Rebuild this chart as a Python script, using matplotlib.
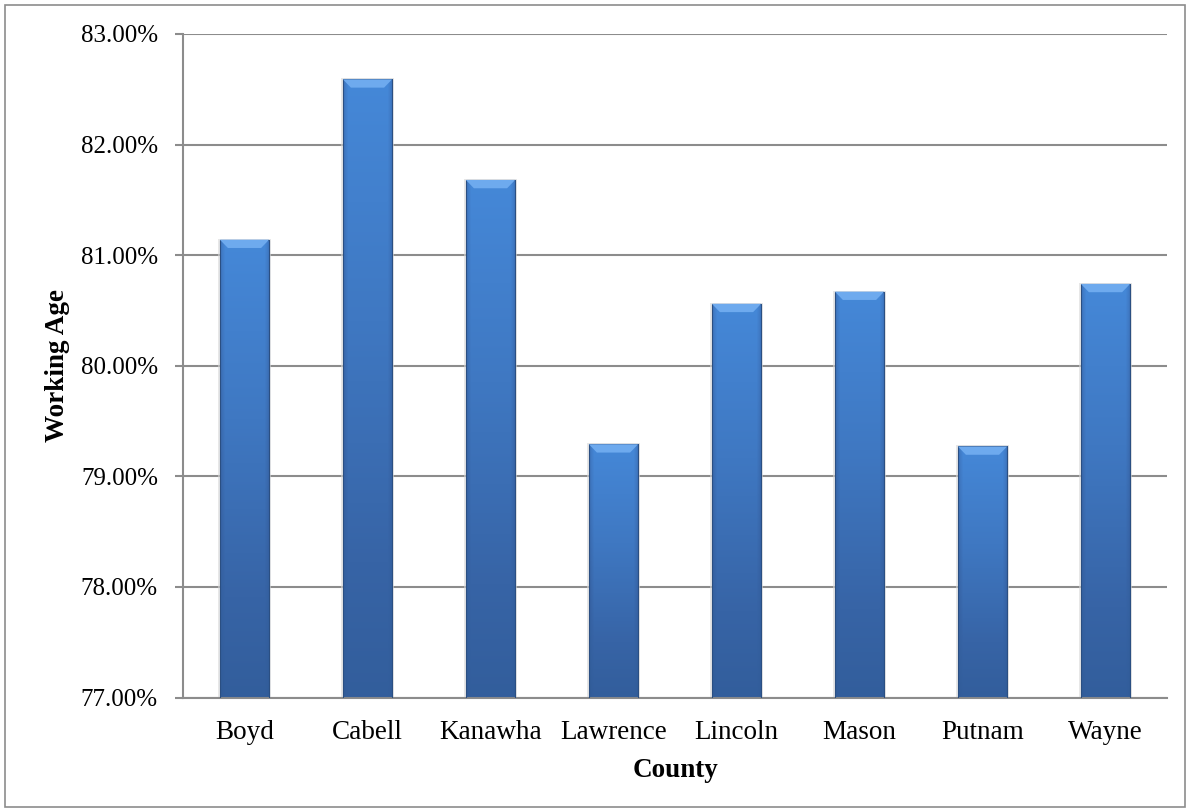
import numpy as np
import matplotlib.pyplot as plt
from matplotlib.patches import Rectangle, Polygon
from matplotlib.colors import LinearSegmentedColormap

# data
counties = ['Boyd', 'Cabell', 'Kanawha', 'Lawrence', 'Lincoln', 'Mason', 'Putnam', 'Wayne']
working_age = [81.14, 82.59, 81.68, 79.29, 80.56, 80.67, 79.27, 80.74]
y_ticks = [77, 78, 79, 80, 81, 82, 83]

plt.rcParams['font.family'] = ['Liberation Serif', 'DejaVu Serif']

fig = plt.figure(figsize=(11.9, 8.11), dpi=100)
ax = fig.add_axes([183 / 1190, 1 - 697.5 / 811, (1167 - 183) / 1190, (697.5 - 34) / 811])

# outer chart border
fig.patches.append(Rectangle((5 / 1190, 4 / 811), 1180 / 1190, 802 / 811,
                             transform=fig.transFigure, fill=False,
                             edgecolor='#8c8c8c', linewidth=1.2))

x = np.arange(len(counties))
bw = 0.4
base = y_ticks[0]
bars = ax.bar(x, np.array(working_age) - base, bottom=base, width=bw,
              color='none', edgecolor='#2b4f82', linewidth=0.8, zorder=3)

# gradient fill for the bars (light top, darker bottom, shaded sides)
cmap = LinearSegmentedColormap.from_list('bluebar', ['#2f5994', '#3764a6', '#3f78c2', '#4588d8'])
gy = np.linspace(0, 1, 200)[:, None]
gx = np.linspace(-1, 1, 60)[None, :]
shade = gy * 0.85 + 0.15
side = 1 - 0.4 * np.clip((np.abs(gx) - 0.8) / 0.2, 0, 1)
grad = shade * side

for b in bars:
    x0 = b.get_x()
    x1 = x0 + b.get_width()
    y0 = b.get_y()
    y1 = y0 + b.get_height()
    # faint drop shadow
    ax.add_patch(Rectangle((x0 - 0.012, y0), x1 - x0 + 0.024, y1 - y0 + 0.01,
                           facecolor='#d8d8d8', edgecolor='none', zorder=1.5, alpha=0.6))
    im = ax.imshow(grad, extent=[x0, x1, y0, y1], origin='lower', aspect='auto',
                   cmap=cmap, vmin=0, vmax=1, zorder=2)
    im.set_clip_path(b)
    # bevel on top of the bar
    dx = 0.065
    dy = 0.075
    ax.add_patch(Polygon([[x0, y1], [x1, y1], [x1 - dx, y1 - dy], [x0 + dx, y1 - dy]],
                         closed=True, facecolor='#6eaaee', edgecolor='none', zorder=3))

ax.set_xlim(-0.5, len(counties) - 0.5)
ax.set_ylim(77, 83)
ax.set_yticks(y_ticks)
ax.set_yticklabels([f'{v:.2f}%' for v in y_ticks])
ax.set_xticks(x)
ax.set_xticklabels(counties)

ax.yaxis.grid(True, color='#8c8c8c', linewidth=1.5)
ax.set_axisbelow(True)
for s in ['top', 'right']:
    ax.spines[s].set_visible(False)
for s in ['left', 'bottom']:
    ax.spines[s].set_color('#8c8c8c')
    ax.spines[s].set_linewidth(1.5)

ax.tick_params(axis='y', length=6, width=1.5, color='#8c8c8c', pad=12, labelsize=18)
ax.tick_params(axis='x', length=0, pad=16, labelsize=19.5)

fig.text(58 / 1190, 1 - 366 / 811, 'Working Age', rotation=90, ha='center', va='center',
         fontsize=19.5, fontweight='bold')
fig.text(675 / 1190, 1 - 777 / 811, 'County', ha='center', va='baseline',
         fontsize=19.5, fontweight='bold')

plt.savefig('out.png', dpi=100)
